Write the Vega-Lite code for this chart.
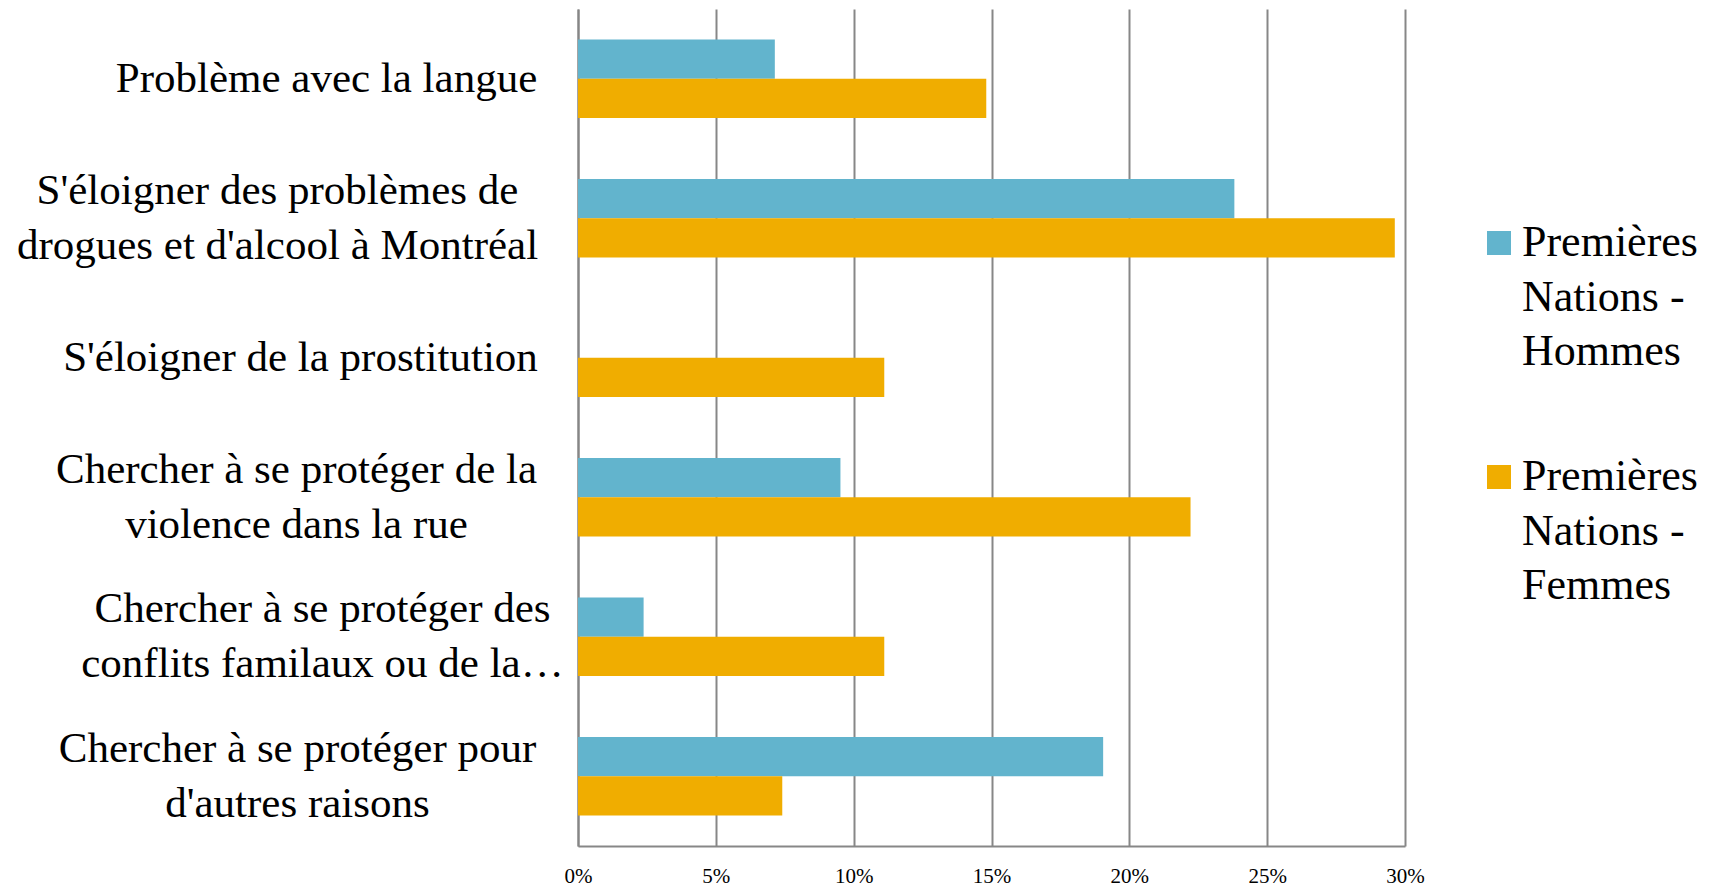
{
  "$schema": "https://vega.github.io/schema/vega-lite/v6.json",
  "width": 827,
  "height": 837,
  "autosize": "none",
  "padding": {"left": 578, "top": 9, "right": 306, "bottom": 42},
  "background": "white",
  "data": {
    "values": [
      {"raison": "Problème avec la langue", "groupe": "Premières Nations - Hommes", "pct": 0.0714},
      {"raison": "Problème avec la langue", "groupe": "Premières Nations - Femmes", "pct": 0.1481},
      {"raison": "S'éloigner des problèmes de\ndrogues et d'alcool à Montréal", "groupe": "Premières Nations - Hommes", "pct": 0.2381},
      {"raison": "S'éloigner des problèmes de\ndrogues et d'alcool à Montréal", "groupe": "Premières Nations - Femmes", "pct": 0.2963},
      {"raison": "S'éloigner de la prostitution", "groupe": "Premières Nations - Hommes", "pct": 0},
      {"raison": "S'éloigner de la prostitution", "groupe": "Premières Nations - Femmes", "pct": 0.1111},
      {"raison": "Chercher à se protéger de la\nviolence dans la rue", "groupe": "Premières Nations - Hommes", "pct": 0.0952},
      {"raison": "Chercher à se protéger de la\nviolence dans la rue", "groupe": "Premières Nations - Femmes", "pct": 0.2222},
      {"raison": "Chercher à se protéger des\nconflits familaux ou de la…", "groupe": "Premières Nations - Hommes", "pct": 0.0238},
      {"raison": "Chercher à se protéger des\nconflits familaux ou de la…", "groupe": "Premières Nations - Femmes", "pct": 0.1111},
      {"raison": "Chercher à se protéger pour\nd'autres raisons", "groupe": "Premières Nations - Hommes", "pct": 0.1905},
      {"raison": "Chercher à se protéger pour\nd'autres raisons", "groupe": "Premières Nations - Femmes", "pct": 0.0741}
    ]
  },
  "mark": {"type": "bar"},
  "encoding": {
    "y": {
      "field": "raison",
      "type": "nominal",
      "sort": null,
      "scale": {"paddingInner": 0.437, "paddingOuter": 0.2185},
      "axis": {
        "title": null,
        "labelExpr": "split(datum.label, '\\n')",
        "labelFont": "Liberation Serif",
        "labelFontSize": 43,
        "labelColor": "black",
        "labelLineHeight": 54.6,
        "labelAlign": "center",
        "labelBaseline": "middle",
        "labelPadding": {
          "condition": [
            {"test": "test(/^Probl/, datum.value)", "value": 252},
            {"test": "test(/^S'éloigner des/, datum.value)", "value": 301},
            {"test": "test(/^S'éloigner de la/, datum.value)", "value": 278},
            {"test": "test(/de la\\nviolence/, datum.value)", "value": 282},
            {"test": "test(/des\\nconflits/, datum.value)", "value": 256}
          ],
          "value": 281
        },
        "labelOffset": {
          "condition": {"test": "indexof(datum.value, '\\n') >= 0", "value": -27.3},
          "value": 0
        },
        "labelLimit": 0,
        "ticks": false,
        "grid": false,
        "domainColor": "#868686",
        "domainWidth": 2
      }
    },
    "yOffset": {
      "field": "groupe",
      "sort": ["Premières Nations - Hommes", "Premières Nations - Femmes"]
    },
    "x": {
      "field": "pct",
      "type": "quantitative",
      "scale": {"domain": [0, 0.3], "nice": false},
      "axis": {
        "title": null,
        "format": ".0%",
        "values": [0, 0.05, 0.1, 0.15, 0.2, 0.25, 0.3],
        "grid": true,
        "gridColor": "#878787",
        "gridWidth": 2,
        "ticks": false,
        "domainColor": "#878787",
        "domainWidth": 2,
        "labelFont": "Liberation Serif",
        "labelFontSize": 21,
        "labelColor": "black",
        "labelPadding": 19,
        "labelFlush": false,
        "labelOverlap": false
      }
    },
    "color": {
      "field": "groupe",
      "type": "nominal",
      "scale": {
        "domain": ["Premières Nations - Hommes", "Premières Nations - Femmes"],
        "range": ["#62B4CD", "#F0AD00"]
      },
      "legend": {
        "title": null,
        "orient": "none",
        "legendX": 899,
        "legendY": 212,
        "padding": 0,
        "symbolType": "square",
        "symbolSize": 576,
        "symbolStrokeWidth": 0,
        "symbolOpacity": 1,
        "labelFont": "Liberation Serif",
        "labelFontSize": 44,
        "labelColor": "black",
        "labelOffset": 1,
        "labelLimit": 0,
        "rowPadding": 80,
        "labelExpr": "datum.label == 'Premières Nations - Hommes' ? ['Premières', 'Nations -', 'Hommes'] : ['Premières', 'Nations -', 'Femmes']",
        "encode": {
          "labels": {"update": {"lineHeight": {"value": 54.6}}}
        }
      }
    }
  },
  "config": {"view": {"stroke": null}}
}
